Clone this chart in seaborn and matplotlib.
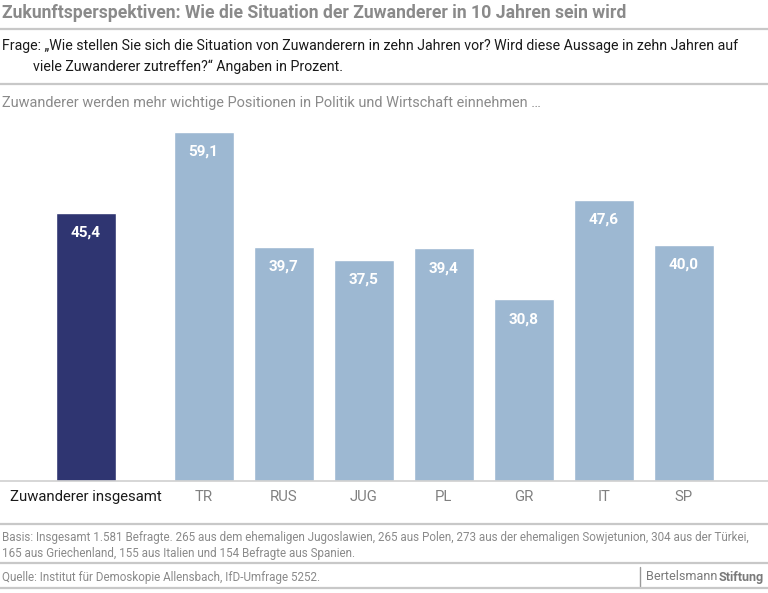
import matplotlib
matplotlib.use("Agg")
import matplotlib.pyplot as plt
from matplotlib.lines import Line2D
import seaborn as sns
import pandas as pd

categories = ["Zuwanderer insgesamt", "TR", "RUS", "JUG", "PL", "GR", "IT", "SP"]
values = [45.4, 59.1, 39.7, 37.5, 39.4, 30.8, 47.6, 40.0]
groups = ["total", "land", "land", "land", "land", "land", "land", "land"]
value_labels = ["45,4", "59,1", "39,7", "37,5", "39,4", "30,8", "47,6", "40,0"]

title = "Zukunftsperspektiven: Wie die Situation der Zuwanderer in 10 Jahren sein wird"
question1 = "Frage: \u201eWie stellen Sie sich die Situation von Zuwanderern in zehn Jahren vor? Wird diese Aussage in zehn Jahren auf"
question2 = "viele Zuwanderer zutreffen?\u201c Angaben in Prozent."
subtitle = "Zuwanderer werden mehr wichtige Positionen in Politik und Wirtschaft einnehmen \u2026"
basis1 = "Basis: Insgesamt 1.581 Befragte. 265 aus dem ehemaligen Jugoslawien, 265 aus Polen, 273 aus der ehemaligen Sowjetunion, 304 aus der T\u00fcrkei,"
basis2 = "165 aus Griechenland, 155 aus Italien und 154 Befragte aus Spanien."
source = "Quelle: Institut f\u00fcr Demoskopie Allensbach, IfD-Umfrage 5252."
logo_a = "Bertelsmann"
logo_b = "Stiftung"

sns.set_theme(style="white")
plt.rcParams["font.family"] = ["Roboto", "DejaVu Sans"]

W, H = 768, 593
fig = plt.figure(figsize=(W / 100, H / 100), dpi=100)
renderer = fig.canvas.get_renderer()

def fy(px):
    return 1 - px / H

def fx(px):
    return px / W

def text_w(text, size, **kw):
    t = fig.text(0, 0, text, fontsize=size, **kw)
    w = t.get_window_extent(renderer).width
    t.remove()
    return w

def fit_size(text, size, target_w, **kw):
    w = text_w(text, size, **kw)
    return min(size, size * target_w / w)

# layout: first bar centre at 86px, others 80px apart after a wider gap
first_gap = 1.47
pos = [0.0] + [first_gap + i for i in range(len(categories) - 1)]
df = pd.DataFrame({"pos": pos, "value": values, "group": groups, "cat": categories})

base_px = 481
top_px = 120
scale = 5.905
ax = fig.add_axes([0, (H - base_px) / H, 1, (base_px - top_px) / H])
palette = {"total": "#2f3571", "land": "#9db8d2"}
sns.barplot(data=df, x="pos", y="value", hue="group", palette=palette,
            native_scale=True, dodge=False, width=0.75, legend=False,
            saturation=1, ax=ax)
ax.set_xlim(-86 / 80, (W - 86) / 80)
ax.set_ylim(0, (base_px - top_px) / scale)
ax.set_xlabel("")
ax.set_ylabel("")
ax.set_yticks([])
ax.set_xticks([])
for s in ["top", "right", "left"]:
    ax.spines[s].set_visible(False)
ax.spines["bottom"].set_color("#d0d0d0")
ax.spines["bottom"].set_linewidth(1.2)

vsize = fit_size("59,1", 12, 30, fontweight="bold")
for x, v, lab in zip(pos, values, value_labels):
    ax.text(x, v - 20 / scale, lab, ha="center", va="center", color="white",
            fontsize=vsize, fontweight="bold")

csize = fit_size(categories[0], 13, 152)
for i, (x, c) in enumerate(zip(pos, categories)):
    ax.text(x, -16 / scale, c, ha="center", va="center",
            color="#1a1a1a" if i == 0 else "#808080", fontsize=csize)

tsize = fit_size(title, 15, 630, fontweight="bold")
fig.text(fx(2), fy(13), title, color="#8a8a8a", fontsize=tsize, fontweight="bold", va="center", ha="left")
qsize = fit_size(question1, 12.5, 736)
fig.text(fx(2), fy(46), question1, color="#1a1a1a", fontsize=qsize, va="center", ha="left")
fig.text(fx(33), fy(67), question2, color="#1a1a1a", fontsize=qsize, va="center", ha="left")
ssize = fit_size(subtitle, 12, 538)
fig.text(fx(2), fy(103), subtitle, color="#8a8a8a", fontsize=ssize, va="center", ha="left")
bsize = fit_size(basis1, 10, 750)
fig.text(fx(2), fy(537), basis1, color="#8a8a8a", fontsize=bsize, va="center", ha="left")
fig.text(fx(2), fy(553), basis2, color="#8a8a8a", fontsize=bsize, va="center", ha="left")
fig.text(fx(2), fy(577), source, color="#8a8a8a", fontsize=bsize, va="center", ha="left")

base_l = 10
wa = text_w(logo_a, base_l)
wb = text_w(logo_b, base_l, fontweight="bold")
lsize = min(base_l, base_l * 118 / (wa + wb + 1))
t1 = fig.text(fx(646), fy(577), logo_a, color="#7a7a7a", fontsize=lsize, va="center", ha="left")
bb = t1.get_window_extent(renderer)
fig.text(bb.x1 / W + 1.0 / W, fy(577), logo_b, color="#7a7a7a", fontsize=lsize,
         fontweight="bold", va="center", ha="left")
fig.add_artist(Line2D([fx(640), fx(640)], [fy(567), fy(587)], color="#9a9a9a", lw=1))

for ypx in [29, 84, 524, 563, 588]:
    fig.add_artist(Line2D([0, 1], [fy(ypx), fy(ypx)], color="#c8c8c8", lw=1.6))

fig.savefig("out.png", dpi=100)
